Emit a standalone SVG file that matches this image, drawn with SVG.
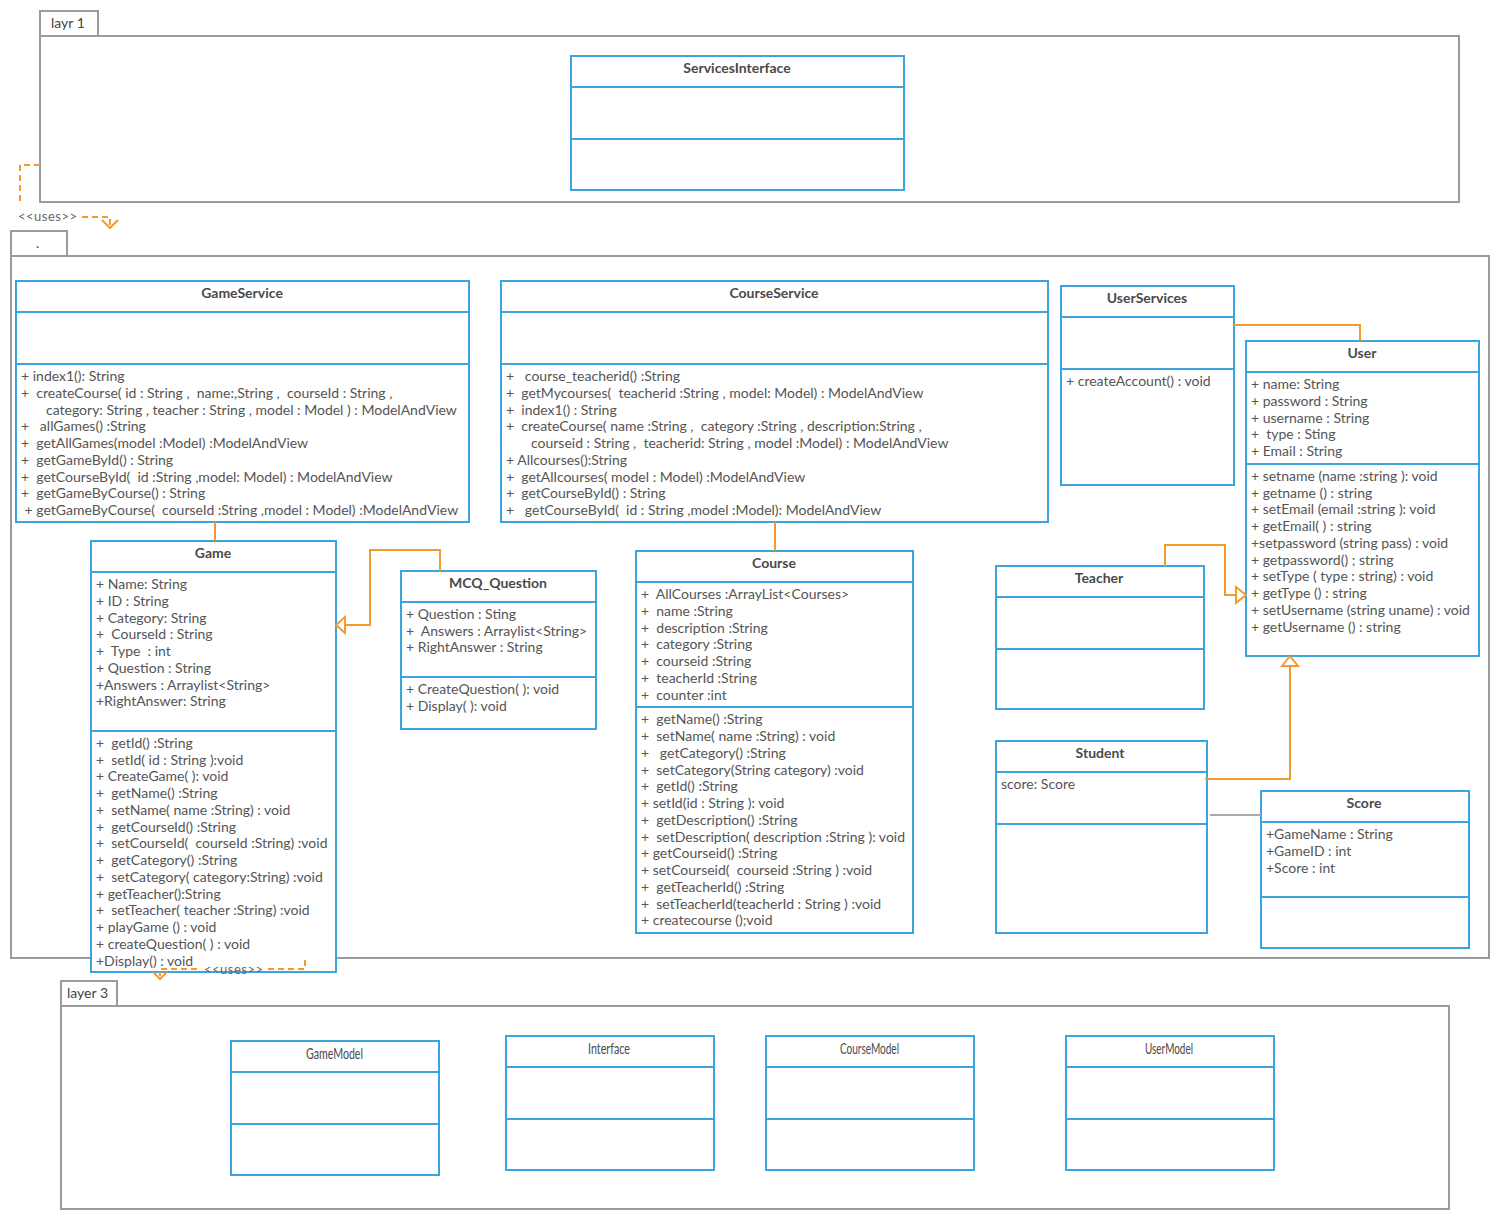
<svg xmlns="http://www.w3.org/2000/svg" width="1500" height="1220" viewBox="0 0 1500 1220">
<style>
.pkg{fill:#fff;stroke:#9b9b9b;stroke-width:2}
.cls{fill:#fff;stroke:#3ba3de;stroke-width:2}
.div{stroke:#3ba3de;stroke-width:2;fill:none}
.t{font-family:Lato,"Open Sans","Liberation Sans",sans-serif;font-size:14px;fill:#555;white-space:pre}
.h{font-family:Lato,"Open Sans","Liberation Sans",sans-serif;font-size:14px;font-weight:bold;fill:#4a4a4a;text-anchor:middle}
.m{font-family:Lato,"Open Sans","Liberation Sans",sans-serif;font-size:16px;fill:#4a4a4a}
.pt{font-family:Lato,"Open Sans","Liberation Sans",sans-serif;font-size:14px;fill:#444}
.c{stroke:#f39a2f;stroke-width:2;fill:none}
.d{stroke:#f39a2f;stroke-width:2;fill:none;stroke-dasharray:6,4}
.tri{stroke:#f39a2f;stroke-width:2;fill:#fff}
.u{font-family:Lato,"Open Sans","Liberation Sans",sans-serif;font-size:13px;fill:#666;letter-spacing:0.5px}
</style>

<g id="layer1">
<rect class="pkg" x="40" y="11" width="58" height="25"/>
<rect class="pkg" x="40" y="36" width="1419" height="166"/>
<text class="pt" x="51" y="28">layr 1</text>
</g>
<g id="layer2">
<rect class="pkg" x="11" y="231" width="56" height="25"/>
<rect class="pkg" x="11" y="256" width="1478" height="702"/>
<text class="pt" x="36" y="248">.</text>
</g>
<g id="layer3">
<rect class="pkg" x="61" y="981" width="56" height="25"/>
<rect class="pkg" x="61" y="1006" width="1388" height="203"/>
<text class="pt" x="67" y="998">layer 3</text>
</g>

<g id="ServicesInterface">
<rect class="cls" x="571" y="56" width="333" height="134"/>
<path class="div" d="M571 87H904M571 139H904"/>
<text class="h" x="737" y="73">ServicesInterface</text>
</g>

<g id="GameService">
<rect class="cls" x="16" y="281" width="453" height="241"/>
<path class="div" d="M16 312H469M16 364H469"/>
<text class="h" x="242" y="298">GameService</text>
<text class="t" x="21" y="381">+ index1(): String</text>
<text class="t" x="21" y="398">+  createCourse( id : String ,  name:,String ,  courseId : String ,</text>
<text class="t" x="46" y="415">category: String , teacher : String , model : Model ) : ModelAndView</text>
<text class="t" x="21" y="431">+   allGames() :String</text>
<text class="t" x="21" y="448">+  getAllGames(model :Model) :ModelAndView</text>
<text class="t" x="21" y="465">+  getGameById() : String</text>
<text class="t" x="21" y="482">+  getCourseById(  id :String ,model: Model) : ModelAndView</text>
<text class="t" x="21" y="498">+  getGameByCourse() : String</text>
<text class="t" x="21" y="515"> + getGameByCourse(  courseId :String ,model : Model) :ModelAndView</text>
</g>

<g id="CourseService">
<rect class="cls" x="501" y="281" width="547" height="241"/>
<path class="div" d="M501 312H1048M501 364H1048"/>
<text class="h" x="774" y="298">CourseService</text>
<text class="t" x="506" y="381">+   course_teacherid() :String</text>
<text class="t" x="506" y="398">+  getMycourses(  teacherid :String , model: Model) : ModelAndView</text>
<text class="t" x="506" y="415">+  index1() : String</text>
<text class="t" x="506" y="431">+  createCourse( name :String ,  category :String , description:String ,</text>
<text class="t" x="531" y="448">courseid : String ,  teacherid: String , model :Model) : ModelAndView</text>
<text class="t" x="506" y="465">+ Allcourses():String</text>
<text class="t" x="506" y="482">+  getAllcourses( model : Model) :ModelAndView</text>
<text class="t" x="506" y="498">+  getCourseById() : String</text>
<text class="t" x="506" y="515">+   getCourseById(  id : String ,model :Model): ModelAndView</text>
</g>

<g id="UserServices">
<rect class="cls" x="1061" y="286" width="173" height="199"/>
<path class="div" d="M1061 317H1234M1061 369H1234"/>
<text class="h" x="1147" y="303">UserServices</text>
<text class="t" x="1066" y="386">+ createAccount() : void</text>
</g>

<g id="User">
<rect class="cls" x="1246" y="341" width="233" height="315"/>
<path class="div" d="M1246 372H1479M1246 464H1479"/>
<text class="h" x="1362" y="358">User</text>
<text class="t" x="1251" y="389">+ name: String</text>
<text class="t" x="1251" y="406">+ password : String</text>
<text class="t" x="1251" y="423">+ username : String</text>
<text class="t" x="1251" y="439">+  type : Sting</text>
<text class="t" x="1251" y="456">+ Email : String</text>
<text class="t" x="1251" y="481">+ setname (name :string ): void</text>
<text class="t" x="1251" y="498">+ getname () : string</text>
<text class="t" x="1251" y="514">+ setEmail (email :string ): void</text>
<text class="t" x="1251" y="531">+ getEmail( ) : string</text>
<text class="t" x="1251" y="548">+setpassword (string pass) : void</text>
<text class="t" x="1251" y="565">+ getpassword() ; string</text>
<text class="t" x="1251" y="581">+ setType ( type : string) : void</text>
<text class="t" x="1251" y="598">+ getType () : string</text>
<text class="t" x="1251" y="615">+ setUsername (string uname) : void</text>
<text class="t" x="1251" y="632">+ getUsername () : string</text>
</g>

<g id="Game">
<rect class="cls" x="91" y="541" width="245" height="431"/>
<path class="div" d="M91 572H336M91 731H336"/>
<text class="h" x="213" y="558">Game</text>
<text class="t" x="96" y="589">+ Name: String</text>
<text class="t" x="96" y="606">+ ID : String</text>
<text class="t" x="96" y="623">+ Category: String</text>
<text class="t" x="96" y="639">+  CourseId : String</text>
<text class="t" x="96" y="656">+  Type  : int</text>
<text class="t" x="96" y="673">+ Question : String</text>
<text class="t" x="96" y="690">+Answers : Arraylist&lt;String&gt;</text>
<text class="t" x="96" y="706">+RightAnswer: String</text>
<text class="t" x="96" y="748">+  getId() :String</text>
<text class="t" x="96" y="765">+  setId( id : String ):void</text>
<text class="t" x="96" y="781">+ CreateGame( ): void</text>
<text class="t" x="96" y="798">+  getName() :String</text>
<text class="t" x="96" y="815">+  setName( name :String) : void</text>
<text class="t" x="96" y="832">+  getCourseId() :String</text>
<text class="t" x="96" y="848">+  setCourseId(  courseId :String) :void</text>
<text class="t" x="96" y="865">+  getCategory() :String</text>
<text class="t" x="96" y="882">+  setCategory( category:String) :void</text>
<text class="t" x="96" y="899">+ getTeacher():String</text>
<text class="t" x="96" y="915">+  setTeacher( teacher :String) :void</text>
<text class="t" x="96" y="932">+ playGame () : void</text>
<text class="t" x="96" y="949">+ createQuestion( ) : void</text>
<text class="t" x="96" y="966">+Display() : void</text>
</g>

<g id="MCQ_Question">
<rect class="cls" x="401" y="571" width="195" height="158"/>
<path class="div" d="M401 602H596M401 677H596"/>
<text class="h" x="498" y="588">MCQ_Question</text>
<text class="t" x="406" y="619">+ Question : Sting</text>
<text class="t" x="406" y="636">+  Answers : Arraylist&lt;String&gt;</text>
<text class="t" x="406" y="652">+ RightAnswer : String</text>
<text class="t" x="406" y="694">+ CreateQuestion( ): void</text>
<text class="t" x="406" y="711">+ Display( ): void</text>
</g>

<g id="Course">
<rect class="cls" x="636" y="551" width="277" height="382"/>
<path class="div" d="M636 582H913M636 707H913"/>
<text class="h" x="774" y="568">Course</text>
<text class="t" x="641" y="599">+  AllCourses :ArrayList&lt;Courses&gt;</text>
<text class="t" x="641" y="616">+  name :String</text>
<text class="t" x="641" y="633">+  description :String</text>
<text class="t" x="641" y="649">+  category :String</text>
<text class="t" x="641" y="666">+  courseid :String</text>
<text class="t" x="641" y="683">+  teacherId :String</text>
<text class="t" x="641" y="700">+  counter :int</text>
<text class="t" x="641" y="724">+  getName() :String</text>
<text class="t" x="641" y="741">+  setName( name :String) : void</text>
<text class="t" x="641" y="758">+   getCategory() :String</text>
<text class="t" x="641" y="775">+  setCategory(String category) :void</text>
<text class="t" x="641" y="791">+  getId() :String</text>
<text class="t" x="641" y="808">+ setId(id : String ): void</text>
<text class="t" x="641" y="825">+  getDescription() :String</text>
<text class="t" x="641" y="842">+  setDescription( description :String ): void</text>
<text class="t" x="641" y="858">+ getCourseid() :String</text>
<text class="t" x="641" y="875">+ setCourseid(  courseid :String ) :void</text>
<text class="t" x="641" y="892">+  getTeacherId() :String</text>
<text class="t" x="641" y="909">+  setTeacherId(teacherId : String ) :void</text>
<text class="t" x="641" y="925">+ createcourse ();void</text>
</g>

<g id="Teacher">
<rect class="cls" x="996" y="566" width="208" height="143"/>
<path class="div" d="M996 597H1204M996 649H1204"/>
<text class="h" x="1099" y="583">Teacher</text>
</g>

<g id="Student">
<rect class="cls" x="996" y="741" width="211" height="192"/>
<path class="div" d="M996 772H1207M996 824H1207"/>
<text class="h" x="1100" y="758">Student</text>
<text class="t" x="1001" y="789">score: Score</text>
</g>

<g id="Score">
<rect class="cls" x="1261" y="791" width="208" height="157"/>
<path class="div" d="M1261 822H1469M1261 897H1469"/>
<text class="h" x="1364" y="808">Score</text>
<text class="t" x="1266" y="839">+GameName : String</text>
<text class="t" x="1266" y="856">+GameID : int</text>
<text class="t" x="1266" y="873">+Score : int</text>
</g>

<g id="GameModel">
<rect class="cls" x="231" y="1041" width="208" height="134"/>
<path class="div" d="M231 1072H439M231 1124H439"/>
<text class="m" x="306" y="1059" textLength="57" lengthAdjust="spacingAndGlyphs">GameModel</text>
</g>
<g id="Interface">
<rect class="cls" x="506" y="1036" width="208" height="134"/>
<path class="div" d="M506 1067H714M506 1119H714"/>
<text class="m" x="588" y="1054" textLength="42" lengthAdjust="spacingAndGlyphs">Interface</text>
</g>
<g id="CourseModel">
<rect class="cls" x="766" y="1036" width="208" height="134"/>
<path class="div" d="M766 1067H974M766 1119H974"/>
<text class="m" x="840" y="1054" textLength="59" lengthAdjust="spacingAndGlyphs">CourseModel</text>
</g>
<g id="UserModel">
<rect class="cls" x="1066" y="1036" width="208" height="134"/>
<path class="div" d="M1066 1067H1274M1066 1119H1274"/>
<text class="m" x="1145" y="1054" textLength="48" lengthAdjust="spacingAndGlyphs">UserModel</text>
</g>

<g id="connectors">
<path class="d" d="M40 165H20V203"/>
<text class="u" x="18" y="221">&lt;&lt;uses&gt;&gt;</text>
<path class="d" d="M82 217H110V226"/>
<path class="c" d="M102 220L110 228L118 220"/>
<path class="c" d="M215 522V541"/>
<path class="c" d="M775 522V551"/>
<path class="c" d="M1234 325H1360V341"/>
<path class="c" d="M440 571V550H370V625H345"/>
<path class="tri" d="M345 617L336 625L345 633Z"/>
<path class="c" d="M1165 566V545H1225V595H1236"/>
<path class="tri" d="M1236 587L1246 595L1236 603Z"/>
<path class="c" d="M1205 779H1290V666"/>
<path class="tri" d="M1282 666L1290 656L1298 666Z"/>
<path d="M1210 815H1261" stroke="#aaa" stroke-width="2"/>
<path class="d" d="M305 960V969H267"/>
<text class="u" x="204" y="974">&lt;&lt;uses&gt;&gt;</text>
<path class="d" d="M197 969H160V976"/>
<path class="c" d="M153 972L160 979L167 972"/>
</g>
</svg>
